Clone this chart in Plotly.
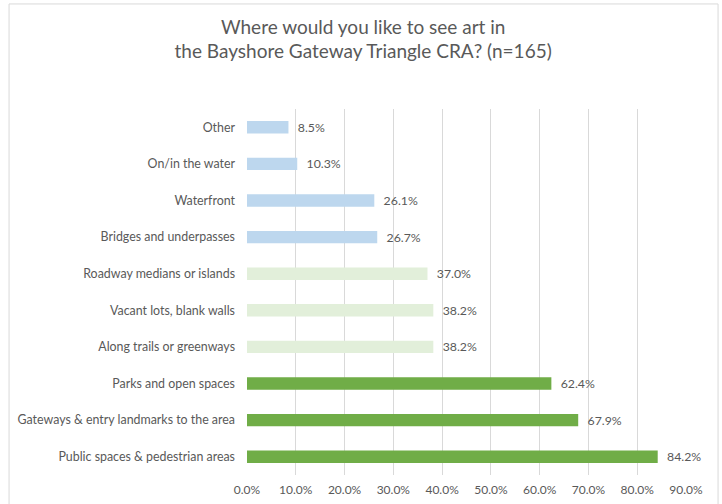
import plotly.graph_objects as go

categories = [
    "Public spaces & pedestrian areas",
    "Gateways & entry landmarks to the area",
    "Parks and open spaces",
    "Along trails or greenways",
    "Vacant lots, blank walls",
    "Roadway medians or islands",
    "Bridges and underpasses",
    "Waterfront",
    "On/in the water",
    "Other",
]
values = [84.2, 67.9, 62.4, 38.2, 38.2, 37.0, 26.7, 26.1, 10.3, 8.5]
colors = ["#70AD47"] * 3 + ["#E2EFDA"] * 3 + ["#BDD7EE"] * 4
tick_vals = [0, 10, 20, 30, 40, 50, 60, 70, 80, 90]
tick_text = [f"{v:.1f}%" for v in tick_vals]

FONT = "Lato, 'Open Sans', sans-serif"
GRAY = "#595959"

fig = go.Figure(
    go.Bar(
        y=categories,
        x=values,
        orientation="h",
        marker=dict(color=colors, line=dict(width=0)),
        width=0.34,
        text=[f"  {v:.1f}%" for v in values],
        textposition="outside",
        constraintext="none",
        textfont=dict(size=12.3, color=GRAY, family=FONT),
        cliponaxis=False,
    )
)

fig.update_layout(
    width=722,
    height=504,
    margin=dict(l=247, r=36, t=109, b=29),
    paper_bgcolor="white",
    plot_bgcolor="white",
    showlegend=False,
    title=dict(
        text="Where would you like to see art in<br>the Bayshore Gateway Triangle CRA? (n=165)",
        x=0.503,
        xanchor="center",
        y=0.933,
        yanchor="top",
        font=dict(size=19, color=GRAY, family=FONT),
    ),
    xaxis=dict(
        range=[0, 90],
        tickvals=tick_vals,
        ticktext=tick_text,
        showgrid=True,
        gridcolor="#D9D9D9",
        gridwidth=1,
        zeroline=False,
        showline=False,
        tickfont=dict(size=12, color=GRAY, family=FONT),
        ticks="",
        ticklabelstandoff=6,
        automargin=False,
    ),
    yaxis=dict(
        categoryorder="array",
        categoryarray=categories,
        showgrid=False,
        showline=False,
        zeroline=False,
        ticks="",
        ticklabelstandoff=11,
        automargin=False,
        tickfont=dict(size=12.4, color=GRAY, family=FONT),
    ),
    shapes=[
        dict(
            type="rect",
            xref="paper",
            yref="paper",
            x0=-0.542,
            x1=1.073,
            y0=-0.2,
            y1=1.287,
            line=dict(color="#D9D9D9", width=1),
            fillcolor="rgba(0,0,0,0)",
            layer="below",
        )
    ],
)

fig.write_html(
    "out.html",
    config={"displayModeBar": False},
    post_script="document.body.style.margin='0';",
)
